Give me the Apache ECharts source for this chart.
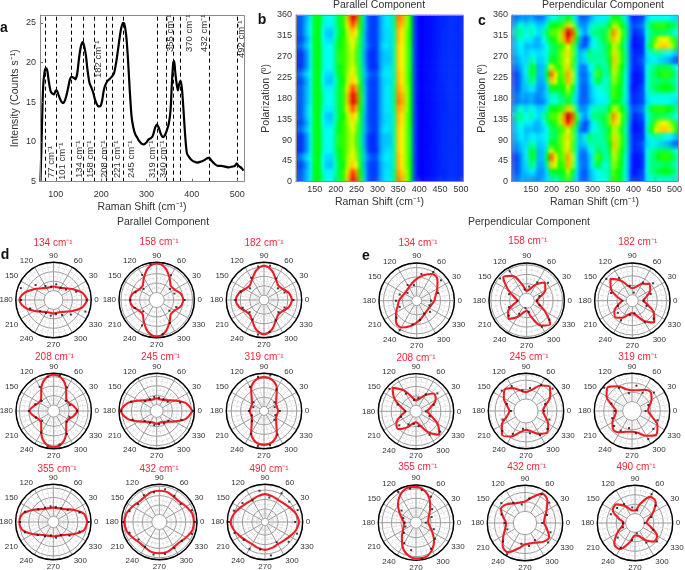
<!DOCTYPE html>
<html><head><meta charset="utf-8">
<style>html,body{margin:0;padding:0;background:#fff}#c{width:685px;height:570px}</style>
<script src="https://cdn.jsdelivr.net/npm/echarts@6/dist/echarts.min.js"></script>
</head><body><div id="c"></div><script>
// ---------- panel a ----------
const ramanShift=[66,68,70,72,75,78,81,84,88,92,96,100,103,106,111,115,119,123,127,131,135,139,143,147,151,155,159,162,166,170,174,178,182,186,190,194,198,202,206,210,214,218,223,228,233,238,243,248,251,255,259,263,267,271,275,280,284,289,294,299,304,310,314,319,323,327,331,336,341,345,349,353,356,359,361,363,366,369,372,375,378,381,385,389,394,400,406,412,418,424,430,436,440,444,451,457,465,473,481,489,495,499,503,510,514];
const intensity=[5,9,13.5,17,18.8,19.3,19,17.8,16.5,16.1,16,16.5,16.4,15.9,15.2,14.9,15.1,15.8,16.8,17.9,18.2,18.1,17.9,18.6,20.5,22,22.6,22.2,21,19,17.5,16.9,16.3,15.4,14.8,14.5,14.5,15.2,16.6,17.3,17.7,17.9,18.2,18.6,20,22,24,25,24.9,23.5,20.5,16.5,13.2,11.8,11,10.5,10.1,9.8,9.7,9.9,10.3,10.5,10.8,11.8,12.2,11.8,11.1,10.6,10.9,11.5,12.3,14,17.5,20,20.2,19,17.5,16.5,17.3,17.7,16.8,14.5,11,8.6,8.1,7.7,7.5,7.4,7.5,7.6,7.8,8,7.9,7.6,7.2,7,7,6.9,6.8,6.9,7,7.3,7,6.7,6.4];
const peakLines=[77,100,135,160,184,212,224,248,324,344,360,375,439,500];
const spectrumTicksX=[100,200,300,400,500];
const spectrumTicksY=[5,10,15,20,25];
const mapTicksX=[150,200,250,300,350,400,450,500];
// ---------- panels b, c: rows are polarization, columns are Raman shift ----------
const mapShifts=[110,120,130,140,150,160,170,180,190,200,210,220,230,240,250,260,270,280,290,300,310,320,330,340,350,360,370,380,390,400,410,420,430,440,450,460,470,480,490,500];
const mapPolarizations=[7.5,22.5,37.5,52.5,67.5,82.5,97.5,112.5,127.5,142.5,157.5,172.5,187.5,202.5,217.5,232.5,247.5,262.5,277.5,292.5,307.5,322.5,337.5,352.5];
const parallelRows=[
[20,22,30,36,48,50,42,38,38,42,48,52,68,90,80,52,32,20,18,20,30,35,35,44,74,70,58,50,18,12,12,13,14,15,16,16,17,17,17,16],
[20,22,30,36,48,50,40,36,36,42,48,52,64,82,72,50,32,20,18,20,30,35,35,44,72,66,58,50,18,12,12,13,14,15,16,16,17,17,17,16],
[18,20,28,36,48,50,38,32,32,40,48,50,60,68,62,48,30,20,18,20,30,34,34,42,70,64,56,50,18,12,12,13,14,15,16,17,17,17,17,16],
[22,26,34,38,48,50,38,34,34,42,50,52,58,64,58,46,32,24,20,22,32,36,35,42,70,64,56,50,18,12,12,13,14,15,16,17,17,17,17,16],
[16,18,26,36,48,50,40,38,38,44,50,52,56,62,56,46,30,18,16,18,30,34,34,42,68,62,56,48,18,12,12,13,14,15,16,17,17,17,17,16],
[16,18,26,36,48,50,40,38,38,44,52,52,56,60,54,44,28,18,16,20,30,32,32,42,68,62,56,48,18,12,12,13,14,15,16,17,17,17,17,16],
[16,18,26,36,48,50,40,38,38,44,52,52,56,60,54,44,28,18,16,20,30,32,32,42,68,62,56,48,18,12,12,13,14,15,16,17,17,17,17,16],
[22,24,32,38,48,50,40,38,38,44,50,52,56,62,56,46,30,22,18,20,32,36,34,42,68,62,56,48,18,12,12,13,14,15,16,17,17,17,17,16],
[18,20,28,36,48,50,38,34,34,42,50,52,58,64,58,46,30,20,18,20,30,34,34,42,70,64,56,50,18,12,12,13,14,15,16,17,17,17,17,16],
[20,22,32,38,48,50,38,32,32,40,48,50,60,68,62,48,30,20,18,20,30,34,34,42,70,64,56,50,18,12,12,13,14,15,16,17,17,17,17,16],
[20,22,32,38,48,50,40,36,36,42,48,52,64,80,70,50,32,20,18,20,30,35,35,44,72,68,58,50,18,12,12,13,14,15,16,16,17,17,17,16],
[20,22,30,36,48,50,42,38,38,42,48,52,68,92,82,52,32,20,18,20,30,35,35,44,76,72,58,50,18,12,12,13,14,15,16,16,17,17,17,16]];
const perpendicularRows=[
[22,26,30,28,30,28,25,30,34,42,40,46,46,54,44,35,24,20,28,34,38,38,38,44,54,50,46,38,20,16,18,20,36,40,40,40,40,40,40,38],
[20,22,30,32,36,34,26,28,34,50,50,48,50,60,50,36,24,20,28,34,38,40,40,44,54,50,46,38,18,14,16,20,38,44,46,48,50,50,48,42],
[18,22,30,34,44,42,28,30,44,68,60,50,54,70,58,40,26,22,30,38,48,44,38,44,58,52,48,38,20,14,14,18,38,44,44,44,46,46,44,40],
[16,22,30,36,48,46,30,32,50,80,64,52,56,72,60,40,24,22,30,40,54,48,40,46,60,54,48,38,20,14,14,18,38,44,46,50,52,52,48,42],
[22,28,32,36,48,46,30,32,44,62,52,52,58,66,54,40,26,24,36,38,46,44,40,48,66,56,50,40,22,16,16,20,38,42,44,46,46,46,44,38],
[26,30,34,34,42,40,32,34,40,50,48,54,58,64,54,42,30,34,42,42,42,42,42,50,68,58,52,42,22,16,18,22,34,36,36,34,32,30,26,20],
[28,34,36,32,36,36,34,36,40,46,46,54,58,66,56,42,30,36,46,42,42,42,44,52,66,58,52,42,22,16,16,18,36,40,42,42,40,38,36,30],
[30,36,36,30,32,30,30,34,38,46,46,52,54,62,54,42,24,20,30,38,40,42,44,50,60,56,48,40,20,14,14,18,40,50,60,66,68,66,60,50],
[30,40,40,36,36,32,30,38,44,50,52,58,70,86,72,50,30,18,26,38,42,44,48,56,70,62,52,42,22,14,16,18,38,46,54,60,62,60,54,46],
[34,44,42,38,42,38,34,42,46,54,54,58,72,94,80,54,36,26,36,44,44,46,46,56,76,62,54,44,24,16,18,22,38,44,46,46,46,44,42,38],
[28,40,40,34,40,36,32,34,42,50,50,52,54,68,58,42,28,26,34,40,42,42,42,50,60,56,50,42,24,20,22,26,40,48,52,52,52,50,48,44],
[22,26,28,26,30,26,24,26,32,40,38,44,42,50,42,34,22,22,26,32,36,36,36,42,50,48,44,36,20,16,18,20,34,38,38,38,38,38,36,34]];
// ---------- panels d, e: radius as percent of the outer circle ----------
const fitAngles=[0,15,30,45,60,75,90,105,120,135,150,165,180,195,210,225,240,255,270,285,300,315,330,345,360];
const dotAngles=[0,20,40,60,80,100,120,140,160,180,200,220,240,260,280,300,320,340];
const d134Fit=[90,78,58,44,37,35,36,35,37,44,58,78], d134Dots=[88,64,43,38,42,36,43,62,92,86,66,46,40,42,38,46,60,90];
const d158Fit=[71,66,55,53,68,88,97,88,68,53,55,66], d158Dots=[74,50,46,76,99,96,77,46,60,70,62,47,78,99,92,70,44,55];
const d182Fit=[75,69,58,54,63,81,91,81,63,54,58,69], d182Dots=[78,58,48,66,92,90,68,48,66,76,60,50,60,93,86,62,50,58];
const d208Fit=[64,54,45,47,66,88,96,88,66,47,45,54], d208Dots=[62,45,42,72,96,92,74,42,52,66,50,40,66,98,90,70,44,44];
const d245Fit=[95,80,55,40,34,32,34,32,34,40,55,80], d245Dots=[96,66,38,36,36,38,36,40,72,94,68,42,36,38,36,38,40,70];
const d319Fit=[38,36,37,46,68,85,90,85,68,46,37,36], d319Dots=[42,30,36,66,96,92,74,36,30,40,34,42,70,94,92,72,36,32];
const d355Fit=[90,84,64,48,41,38,38,38,41,48,64,84], d355Dots=[94,74,50,42,40,42,44,52,80,88,80,54,44,36,42,40,56,74];
const d432Fit=[92,90,82,76,77,82,83,82,77,76,82,90], d432Dots=[94,92,74,80,88,80,82,74,84,96,84,72,76,88,86,80,78,92];
const d490Fit=[91,85,76,70,68,71,74,71,68,70,76,85], d490Dots=[80,92,84,88,66,84,66,78,88,96,86,74,82,74,90,62,82,90];
const e134Fit=[47,52,63,78,82,70,58,48,41,38,38,41], e134Dots=[38,60,84,88,72,42,48,32,48,55,48,70,90,64,52,40,46,36];
const e158Fit=[25,36,57,68,50,32,26,44,76,88,56,33], e158Dots=[28,36,74,56,38,30,90,92,50,24,50,62,40,20,30,80,78,36];
const e182Fit=[28,38,55,63,52,38,33,40,62,82,66,42], e182Dots=[30,52,72,56,22,40,70,90,60,26,40,50,60,38,34,66,74,40];
const e208Fit=[29,40,60,67,50,34,29,38,64,88,66,40], e208Dots=[26,50,74,52,36,30,54,92,52,28,42,58,40,34,40,72,84,38];
const e245Fit=[44,52,74,90,78,58,50,56,70,80,68,52], e245Dots=[48,54,92,80,62,56,76,84,54,40,66,82,70,48,60,74,74,66];
const e319Fit=[42,47,60,70,65,57,55,60,76,90,78,54], e319Dots=[36,46,76,56,68,48,70,96,58,46,56,62,60,46,60,86,74,72];
const e355Fit=[32,34,40,53,72,88,95,95,84,68,50,38], e355Dots=[26,44,56,80,88,92,94,50,36,30,30,42,62,74,98,80,66,50];
const e432Fit=[50,54,66,84,90,70,57,56,60,70,74,60], e432Dots=[46,62,84,88,66,50,62,82,66,54,50,76,96,56,62,52,80,72];
const e490Fit=[30,36,55,78,80,52,33,35,52,70,68,44], e490Dots=[26,46,72,88,34,42,58,62,68,32,34,60,76,46,28,60,76,52];

// ---------- layout ----------
const FONT='"Liberation Sans",Arial,sans-serif', INK='#333';
const SUP='cm\u207B\u00B9';
const polars=[
 ['134',d134Fit,d134Dots,53.5,300,25,53,243],['158',d158Fit,d158Dots,156.7,300,20,159,242],['182',d182Fit,d182Dots,264,300,13,264,243],
 ['208',d208Fit,d208Dots,53.7,411,16,54.6,357],['245',d245Fit,d245Dots,156.7,411,17,160.6,357],['319',d319Fit,d319Dots,264,411,12,264,357],
 ['355',d355Fit,d355Dots,53.3,522,15,57,469],['432',d432Fit,d432Dots,159.3,522,20,159,469],['490',d490Fit,d490Dots,265,522,10,269,469],
 ['134',e134Fit,e134Dots,416.7,300.7,13,418,243],['158',e158Fit,e158Dots,526.7,300.7,20,527.7,241],['182',e182Fit,e182Dots,632.3,300.7,16,637.7,242],
 ['208',e208Fit,e208Dots,416,411.3,16,416,358],['245',e245Fit,e245Dots,526,411,32,529,357],['319',e319Fit,e319Dots,632,411,25,637.7,357],
 ['355',e355Fit,e355Dots,416,522.7,15,417.7,467.7],['432',e432Fit,e432Dots,525,523,31,526.7,467.7],['490',e490Fit,e490Dots,635,523,25,636,467.7]];
const R=37.7;
const txt=(text,x,y,o={})=>({type:'text',x,y,z:20,rotation:o.rot||0,silent:true,style:{text,fill:o.fill||INK,font:(o.weight||'normal')+' '+(o.size||10.5)+'px '+FONT,align:o.align||'center',verticalAlign:'middle'}});
const frame=(x,y,width,height)=>({type:'rect',z:19,silent:true,shape:{x,y,width,height},style:{fill:'none',stroke:'#8a8a8a',lineWidth:1}});
const peakLabels=[['77',51,178],['101',62,180],['134',79,178],['158',90,178],['208',104,178],['221',117,178],['245',131,178],['319',152,178],['340',163,178],['182',98,78],['355',170,52],['370',189,52],['432',204,52],['492',241,58]];
const graphics=[
 frame(40.5,15.5,204,166),frame(296.5,15.5,167,166),frame(511.5,15.5,167,166),
 txt('a',4,28,{weight:'bold',size:14,fill:'#111'}),txt('b',262,20,{weight:'bold',size:14,fill:'#111'}),txt('c',482,21,{weight:'bold',size:14,fill:'#111'}),txt('d',5,255,{weight:'bold',size:14,fill:'#111'}),txt('e',366,256,{weight:'bold',size:14,fill:'#111'}),
 txt('Parallel Component',379,5),txt('Perpendicular Component',603,5),txt('Parallel Component',163,222),txt('Perpendicular Component',529,222),
 ...peakLabels.map(p=>txt(p[0]+' '+SUP,p[1],p[2],{rot:Math.PI/2,align:'left',size:9.5})),
 ...polars.map(p=>txt(p[0]+' '+SUP,p[6],p[7],{fill:'#f0283c',size:10})),
 ...polars.map(p=>({type:'circle',z:4,silent:true,shape:{cx:p[3],cy:p[4],r:R},style:{fill:'none',stroke:'#000',lineWidth:1.4}}))
];
const axisText={color:INK,fontSize:9,fontFamily:FONT};
const nameText={color:INK,fontSize:10.5,fontFamily:FONT};
const valueAxis=(grid,min,max,name,gap,ticks,margin)=>({type:'value',gridIndex:grid,min,max,name,nameLocation:'middle',nameGap:gap,nameTextStyle:nameText,z:6,
 axisLine:{show:true,onZero:false,lineStyle:{color:'#8a8a8a'}},splitLine:{show:false},
 axisTick:{show:true,inside:true,length:3,lineStyle:{color:'#666'},customValues:ticks},
 axisLabel:Object.assign({},axisText,{margin,customValues:ticks,hideOverlap:false})});
const hiddenCat=(grid,data)=>({type:'category',gridIndex:grid,data,show:false,boundaryGap:true});
const gridBox=[[40,15,204,166.7],[296,15,167,166.7],[512,15,166,166.7],[296,15,167,166.7],[512,15,166,166.7]];
const polarTicks=[0,45,90,135,180,225,270,315,360];
const xAxes=[valueAxis(0,65,515,'Raman Shift (cm\u207B\u00B9)',20,spectrumTicksX,8),hiddenCat(1,mapShifts),hiddenCat(2,mapShifts),
 valueAxis(3,105,505,'Raman Shift (cm\u207B\u00B9)',15,mapTicksX,3),valueAxis(4,104,506,'Raman Shift (cm\u207B\u00B9)',15,mapTicksX,3)];
const yAxes=[valueAxis(0,5,26,'Intensity (Counts s\u207B\u00B9)',19,spectrumTicksY,4),hiddenCat(1,mapPolarizations),hiddenCat(2,mapPolarizations),
 valueAxis(3,0,360,'Polarization (\u00BA)',24,polarTicks,4),valueAxis(4,0,360,'Polarization (\u00BA)',24,polarTicks,4)];
const cells=rows=>mapPolarizations.flatMap((_,j)=>mapShifts.map((_,i)=>[i,j,rows[j%12][i]]));
const series=[
 {type:'line',xAxisIndex:0,yAxisIndex:0,data:ramanShift.map((x,i)=>[x,intensity[i]]),smooth:0.25,showSymbol:false,z:5,lineStyle:{color:'#000',width:2.2},silent:true,
  markLine:{silent:true,symbol:'none',label:{show:false},animation:false,lineStyle:{color:'#000',type:[4,3],width:1},data:peakLines.map(x=>({xAxis:x}))}},
 {type:'heatmap',xAxisIndex:1,yAxisIndex:1,data:cells(parallelRows),silent:true,z:2},
 {type:'heatmap',xAxisIndex:2,yAxisIndex:2,data:cells(perpendicularRows),silent:true,z:2}
];
polars.forEach((p,i)=>{
 const loop=p[1].concat(p[1],[p[1][0]]);
 series.push({type:'line',coordinateSystem:'polar',polarIndex:i,data:fitAngles.map((a,k)=>[loop[k],a]),smooth:0.33,showSymbol:false,z:5,silent:true,lineStyle:{color:'#ee1c25',width:2.1}});
 series.push({type:'scatter',coordinateSystem:'polar',polarIndex:i,data:dotAngles.map((a,k)=>[p[2][k],a]),symbol:'rect',symbolSize:2,z:6,silent:true,itemStyle:{color:'#111'}});
});
const option={animation:false,backgroundColor:'#fff',
 grid:gridBox.map(g=>({left:g[0],top:g[1],width:g[2],height:g[3]})),
 xAxis:xAxes,yAxis:yAxes,
 visualMap:{show:false,type:'continuous',min:0,max:100,seriesIndex:[1,2],inRange:{color:['#00008f','#0000ff','#0080ff','#00ffff','#00ff00','#ffff00','#ff8000','#ff0000','#800000']}},
 polar:polars.map(p=>({center:[p[3],p[4]],radius:[p[5]/100*R,R]})),
 angleAxis:polars.map((p,i)=>({polarIndex:i,type:'value',min:0,max:360,interval:30,startAngle:0,clockwise:false,
  axisLine:{show:false},axisTick:{show:false},
  axisLabel:{color:INK,fontSize:8,fontFamily:FONT,margin:3},
  splitLine:{show:true,lineStyle:{color:'#9a9a9a',width:1}},
  minorTick:{show:false,splitNumber:3},minorSplitLine:{show:true,lineStyle:{color:'#d8d8d8',width:0.8,type:'dashed'}}})),
 radiusAxis:polars.map((p,i)=>({polarIndex:i,type:'value',min:p[5],max:100,interval:25,axisLine:{show:false},axisTick:{show:false},axisLabel:{show:false},
  splitLine:{show:true,lineStyle:{color:'#9a9a9a',width:1}},minorTick:{show:false,splitNumber:2},minorSplitLine:{show:true,lineStyle:{color:'#d8d8d8',width:0.8,type:'dashed'}}})),
 series,graphic:graphics};
const chart=echarts.init(document.getElementById('c'),null,{renderer:'canvas',width:685,height:570});
chart.setOption(option);
// The reference's maps are soft: soften only the two heatmap plot areas, once, after rendering.
let softened=false;
const softenMaps=()=>{
 if(softened)return; softened=true;
 const cv=chart.getDom().querySelector('canvas'), ctx=cv.getContext('2d');
 [[297,16,166,165],[512,16,166,165]].forEach(b=>{
  const w=Math.round(b[2]/3),h=Math.round(b[3]/4);
  const tmp=document.createElement('canvas');tmp.width=w;tmp.height=h;
  const t=tmp.getContext('2d');t.imageSmoothingEnabled=true;t.imageSmoothingQuality='high';
  t.drawImage(cv,b[0],b[1],b[2],b[3],0,0,w,h);
  ctx.save();ctx.setTransform(1,0,0,1,0,0);ctx.imageSmoothingEnabled=true;ctx.imageSmoothingQuality='high';
  ctx.drawImage(tmp,0,0,w,h,b[0],b[1],b[2],b[3]);ctx.restore();
 });
};
chart.on('finished',softenMaps);
setTimeout(softenMaps,150);
</script></body></html>
